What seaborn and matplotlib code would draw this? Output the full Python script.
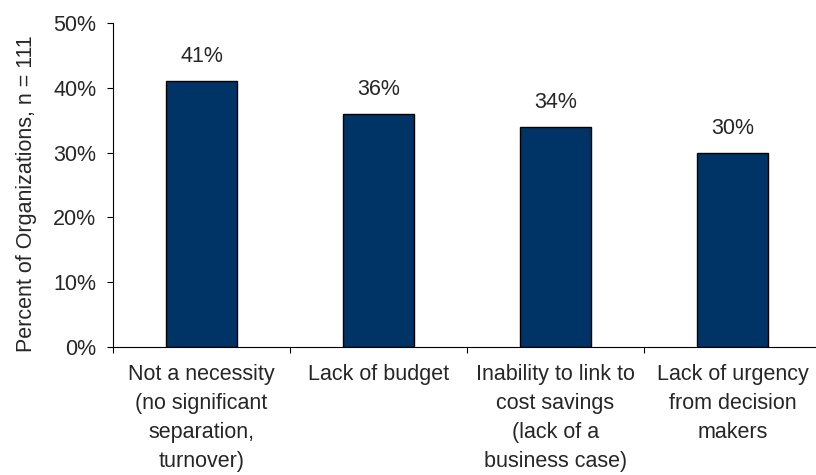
import matplotlib

matplotlib.use("Agg")
import matplotlib.pyplot as plt
import numpy as np
import pandas as pd
import seaborn as sns

sns.set_style("white")
plt.rcParams["font.family"] = ["Liberation Sans", "DejaVu Sans"]

categories = [
    "Not a necessity\n(no significant\nseparation,\nturnover)",
    "Lack of budget",
    "Inability to link to\ncost savings\n(lack of a\nbusiness case)",
    "Lack of urgency\nfrom decision\nmakers",
]
percents = [41, 36, 34, 30]
y_ticks = [0, 10, 20, 30, 40, 50]

df = pd.DataFrame({"reason": categories, "pct": percents})

fig = plt.figure(figsize=(8.16, 4.75), dpi=100)
ax = fig.add_axes([0.1385, 0.2695, 0.8676, 0.682])

sns.barplot(data=df, x="reason", y="pct", color="#003366", saturation=1,
            width=0.4, edgecolor="black", linewidth=1, ax=ax)

for i, v in enumerate(percents):
    ax.annotate(f"{v}%", (i, v), xytext=(0, 10), textcoords="offset points",
                ha="center", va="bottom", fontsize=15.5)

ax.set_xlim(-0.5, len(categories) - 0.5)
ax.set_ylim(0, 50)
ax.set_yticks(y_ticks)
ax.set_yticklabels([f"{t}%" for t in y_ticks])
ax.set_xlabel("")
ax.set_ylabel("Percent of Organizations, n = 111", fontsize=15.5)
ax.yaxis.set_label_coords(-0.107, 0.472)

ax.set_xticks(np.arange(len(categories)))
ax.set_xticklabels(categories, fontsize=15.5, linespacing=1.5)
ax.set_xticks(np.arange(len(categories) + 1) - 0.5, minor=True)
ax.tick_params(axis="x", which="major", length=0, pad=12)
ax.tick_params(axis="x", which="minor", length=4, width=0.8, color="black", direction="out")
ax.tick_params(axis="y", length=4, width=0.8, color="black", direction="out", labelsize=15.5, pad=8)
ax.tick_params(axis="y", left=True)
ax.tick_params(axis="x", which="minor", bottom=True)

for side in ["top", "right"]:
    ax.spines[side].set_visible(False)
for side in ["left", "bottom"]:
    ax.spines[side].set_color("black")
    ax.spines[side].set_linewidth(0.8)

fig.savefig("out.png", dpi=100)
